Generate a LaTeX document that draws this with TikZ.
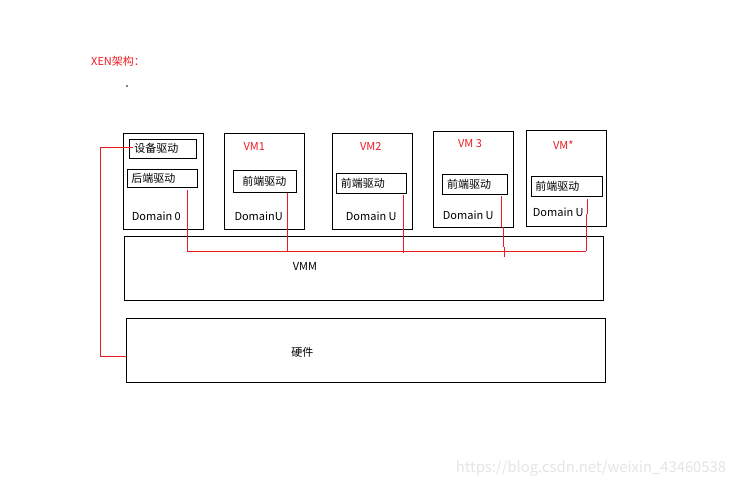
\documentclass[tikz,border=0pt]{standalone}
\usepackage{fontspec}
\newfontfamily\cjk{Noto Sans CJK SC}
\definecolor{xred}{RGB}{237,28,36}
\begin{document}
\begin{tikzpicture}[x=1pt, y=-1pt,
        frame/.style={draw, line width=0.8pt, inner sep=0pt},
        drv/.style={draw, line width=0.8pt, inner xsep=5pt, inner ysep=0pt, align=left, font=\cjk\fontsize{11}{13}\selectfont},
        lbl/.style={inner sep=0pt, font=\cjk\fontsize{11}{13}\selectfont},
        vmlbl/.style={lbl, text=xred},
        link/.style={xred, line width=0.8pt}]
        \path[fill=white, use as bounding box] (0,0) rectangle (736,487);

        % 标题
        \node[vmlbl, anchor=west] (title) at (91,61) {XEN架构：};
        \fill (127,86) circle (0.8pt);

        % Domain 0
        \node[frame, minimum width=80pt, minimum height=96pt] (dom0) at (163.5,181.5) {};
        \node[drv, text width=57pt, minimum height=19pt] (dev) at (162.8,148.8) {设备驱动};
        \node[drv, inner xsep=4pt, text width=62.4pt, minimum height=18pt] (back) at (162.5,178.3) {后端驱动};
        \node[lbl, anchor=west] (d0) at (131.7,216.7) {Domain 0};

        % 各个 DomainU
        \node[frame, minimum width=80pt, minimum height=96pt] (vm1) at (264.3,181.5) {};
        \node[vmlbl] (n1) at (254.3,146) {VM1};
        \node[drv, inner xsep=9pt, text width=45.4pt, minimum height=22.4pt] (fe1) at (265,181.5) {前端驱动};
        \node[lbl, anchor=west] (du1) at (234.3,216) {DomainU};

        \node[frame, minimum width=80pt, minimum height=96pt] (vm2) at (372.3,181.5) {};
        \node[vmlbl] (n2) at (370.7,146) {VM2};
        \node[drv, text width=60.7pt, minimum height=20pt] (fe2) at (371.3,183.3) {前端驱动};
        \node[lbl, anchor=west] (du2) at (345.7,216) {Domain U};

        \node[frame, minimum width=80.4pt, minimum height=96pt] (vm3) at (473.5,179.3) {};
        \node[vmlbl] (n3) at (470,144) {VM 3};
        \node[drv, text width=55.3pt, minimum height=20.3pt] (fe3) at (474.7,184.2) {前端驱动};
        \node[lbl, anchor=west] (du3) at (442.7,215) {Domain U};

        \node[frame, minimum width=80pt, minimum height=96pt] (vmx) at (566.3,178.3) {};
        \node[vmlbl] (nx) at (563.3,145) {VM*};
        \node[drv, inner xsep=4pt, text width=63pt, minimum height=20pt] (fex) at (566.8,186.3) {前端驱动};
        \node[lbl, anchor=west] (dux) at (532.7,212.7) {Domain U};

        % VMM 与 硬件
        \node[frame, minimum width=479pt, minimum height=64pt] (vmm) at (363.8,268.3) {};
        \node[lbl] (vmmlbl) at (305,266.7) {VMM};
        \node[frame, minimum width=479pt, minimum height=64pt] (hw) at (365.8,350.3) {};
        \node[lbl] (hwlbl) at (302.3,352.7) {硬件};

        % 红色连线
        \coordinate (busR) at (586,251);
        \draw[link] ([xshift=4pt,yshift=1.5pt]dev.west) -| ([xshift=-26pt,yshift=-6pt]hw.west) -- ([yshift=-6pt]hw.west);
        \draw[link] ([xshift=24.8pt,yshift=-2.7pt]back.south) |- (busR);
        \draw[link] ([xshift=22.3pt]fe1.south) coordinate (t1) -- (t1 |- busR);
        \draw[link] ([xshift=32pt,yshift=-1.7pt]fe2.south) coordinate (t2) -- ([yshift=-1.7pt]t2 |- busR);
        \draw[link] ([xshift=27pt,yshift=-1.4pt]fe3.south) -- ++(0,31) ++(1.6,0) -- ++(0,20) ++(1,0) -- ++(0,10);
        \draw[link] ([xshift=20.5pt,yshift=-2.7pt]fex.south) -- ++(0,14.3) ++(-1.3,0) -- (busR);

        % 水印
        \node[inner sep=0pt, font=\cjk\fontsize{14.8}{17}\selectfont, text=black!10] (mark) at (591,468) {https://blog.csdn.net/weixin\_43460538};
\end{tikzpicture}
\end{document}
